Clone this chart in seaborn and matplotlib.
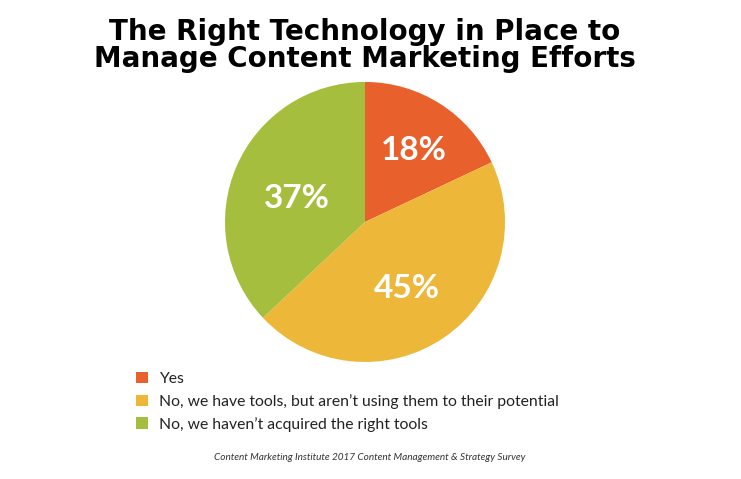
import matplotlib
matplotlib.use("Agg")
import matplotlib.pyplot as plt
import seaborn as sns
import numpy as np

categories = ["Yes",
              "No, we have tools, but aren\u2019t using them to their potential",
              "No, we haven\u2019t acquired the right tools"]
values = [18, 45, 37]
colors = ["#E8602C", "#EDB83A", "#A5BE3D"]
label_dist = [0.65, 0.53, 0.53]

sns.set_theme(style="white")
plt.rcParams['font.family'] = ['Lato', 'DejaVu Sans']

fig = plt.figure(figsize=(7.41, 4.79), dpi=100)
fig.patch.set_facecolor("white")
ax = fig.add_axes([0.3036, 0.2443, 0.378, 0.5846])
wedges, texts, autotexts = ax.pie(
    values, colors=sns.color_palette(colors), startangle=90, counterclock=False,
    autopct=lambda p: f"{p:.0f}%", pctdistance=0.58,
    wedgeprops=dict(linewidth=0),
    textprops=dict(color="white", fontsize=24, fontweight="bold"))
for w, t, d in zip(wedges, autotexts, label_dist):
    ang = np.deg2rad((w.theta1 + w.theta2) / 2)
    t.set_position((d * np.cos(ang), d * np.sin(ang) - 0.04))
ax.set_aspect("equal")
ax.set_xlim(-1, 1); ax.set_ylim(-1, 1)
ax.axis("off")

for y, line in [(32, "The Right Technology in Place to"), (59, "Manage Content Marketing Efforts")]:
    fig.text(365/741, 1 - y/479, line, ha="center", va="center",
             fontsize=20, fontweight="bold", color="black", family=["DejaVu Sans"])

leg = fig.legend(wedges, categories, loc="upper left",
                 bbox_to_anchor=(136/741, 1 - 372/479), frameon=False,
                 handlelength=0.75, handleheight=0.75, handletextpad=0.7,
                 labelspacing=0.5, fontsize=11.3, borderaxespad=0, borderpad=0)
for t in leg.get_texts():
    t.set_color("#222222")

fig.text(370/741, 1 - 457/479, "Content Marketing Institute 2017 Content Management & Strategy Survey",
         ha="center", va="center", fontsize=7.2, style="italic", color="#333333")

fig.savefig("out.png", dpi=100, facecolor="white")
